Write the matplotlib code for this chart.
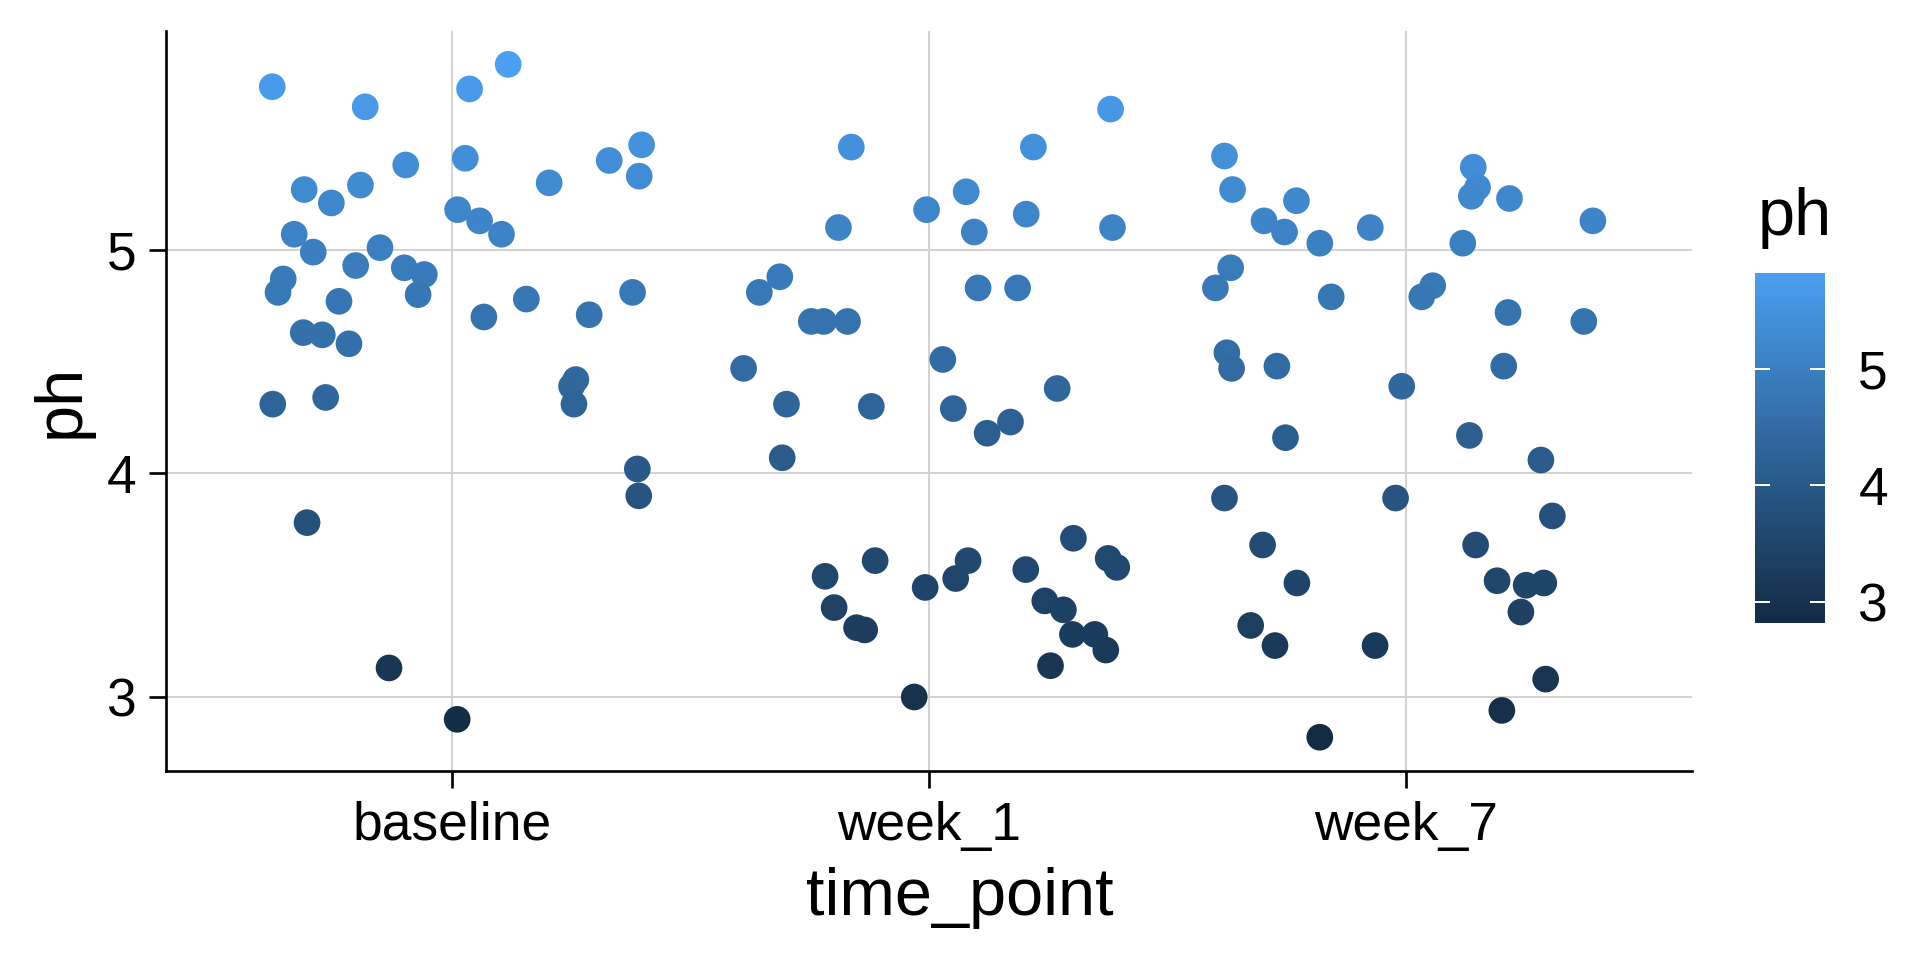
import matplotlib
matplotlib.use("Agg")
import matplotlib.pyplot as plt
from matplotlib.colors import LinearSegmentedColormap, Normalize
import numpy as np

plt.rcParams["font.family"] = ["Liberation Sans", "DejaVu Sans"]

# categories on the x axis
CATEGORIES = ["baseline", "week_1", "week_7"]

# ph values per time point, with the horizontal jitter
baseline_ph = [5.73, 5.64, 5.83, 5.72, 5.41, 5.38, 5.27, 5.21, 5.29, 5.47,
               5.40, 5.33, 5.30, 5.18, 5.13, 5.07, 5.07, 4.99, 5.01, 4.93,
               4.92, 4.89, 4.80, 4.87, 4.81, 4.77, 4.63, 4.62, 4.58, 4.70,
               4.78, 4.71, 4.81, 4.42, 4.39, 4.31, 4.31, 4.34, 4.02, 3.90,
               3.78, 3.13, 2.90]
baseline_jit = [-0.378, -0.183, 0.117, 0.036, 0.027, -0.098, -0.311, -0.254, -0.193, 0.397,
                0.329, 0.392, 0.203, 0.011, 0.057, 0.103, -0.332, -0.292, -0.152, -0.203,
                -0.101, -0.059, -0.072, -0.355, -0.366, -0.238, -0.313, -0.273, -0.217, 0.066,
                0.155, 0.287, 0.378, 0.259, 0.250, 0.255, -0.377, -0.266, 0.388, 0.391,
                -0.305, -0.133, 0.010]

week1_ph = [5.63, 5.46, 5.46, 5.26, 5.18, 5.10, 5.08, 5.16, 5.10, 4.88,
            4.81, 4.83, 4.83, 4.68, 4.68, 4.68, 4.47, 4.51, 4.31, 4.30,
            4.29, 4.38, 4.23, 4.18, 4.07, 3.61, 3.54, 3.40, 3.31, 3.30,
            3.49, 3.61, 3.53, 3.57, 3.71, 3.62, 3.58, 3.43, 3.39, 3.28,
            3.28, 3.21, 3.14, 3.00]
week1_jit = [0.381, -0.163, 0.219, 0.078, -0.005, -0.190, 0.095, 0.204, 0.385, -0.313,
             -0.356, 0.103, 0.186, -0.247, -0.221, -0.171, -0.389, 0.029, -0.299, -0.121,
             0.051, 0.269, 0.171, 0.122, -0.308, -0.113, -0.218, -0.199, -0.152, -0.135,
             -0.008, 0.082, 0.056, 0.203, 0.303, 0.376, 0.394, 0.243, 0.282, 0.301,
             0.348, 0.371, 0.255, -0.031]

week7_ph = [5.42, 5.27, 5.22, 5.13, 5.08, 5.03, 5.10, 5.37, 5.28, 5.24,
            5.23, 5.13, 5.03, 4.92, 4.83, 4.79, 4.84, 4.79, 4.72, 4.68,
            4.54, 4.47, 4.48, 4.48, 4.39, 4.16, 4.17, 4.06, 3.89, 3.89,
            3.81, 3.68, 3.68, 3.51, 3.52, 3.50, 3.51, 3.38, 3.32, 3.23,
            3.23, 3.08, 2.94, 2.82]
week7_jit = [-0.380, -0.363, -0.229, -0.297, -0.254, -0.180, -0.074, 0.142, 0.151, 0.138,
             0.218, 0.393, 0.120, -0.367, -0.399, -0.156, 0.057, 0.034, 0.215, 0.374,
             -0.375, -0.365, -0.270, 0.206, -0.008, -0.252, 0.134, 0.284, -0.380, -0.021,
             0.308, -0.300, 0.147, -0.228, 0.192, 0.253, 0.290, 0.242, -0.325, -0.274,
             -0.064, 0.294, 0.202, -0.180]

Y_TICKS = [3, 4, 5]

groups = [(baseline_ph, baseline_jit), (week1_ph, week1_jit), (week7_ph, week7_jit)]
all_ph = np.concatenate([g[0] for g in groups])

# dark navy -> light blue gradient, like ggplot's default continuous scale
cmap = LinearSegmentedColormap.from_list("gg", ["#132B43", "#4A9FF0"])
norm = Normalize(vmin=all_ph.min(), vmax=all_ph.max())

fig = plt.figure(figsize=(8, 4), dpi=240)
ax = fig.add_axes([0.0867, 0.197, 0.881 - 0.0867, 0.968 - 0.197])

for i, (ph, jit) in enumerate(groups):
    xs = i + 1 + np.asarray(jit)
    ax.scatter(xs, ph, c=ph, cmap=cmap, norm=norm, s=64,
               edgecolors="none", zorder=3)

ax.set_xlim(0.4, 3.6)
lo, hi = all_ph.min(), all_ph.max()
pad = (hi - lo) * 0.05
ax.set_ylim(lo - pad, hi + pad)
ax.set_xticks([1, 2, 3])
ax.set_xticklabels(CATEGORIES)
ax.set_yticks(Y_TICKS)

ax.grid(True, color="#D3D3D3", linewidth=0.6, zorder=0)
ax.set_axisbelow(True)
for side in ["top", "right"]:
    ax.spines[side].set_visible(False)
for side in ["left", "bottom"]:
    ax.spines[side].set_linewidth(0.8)
ax.tick_params(length=5, width=0.8, labelsize=16, pad=4, color="black")

fig.text(0.032, 0.5825, "ph", rotation=90, ha="center", va="center", fontsize=20)
fig.text(0.5, 0.0646, "time_point", ha="center", va="center", fontsize=20)

# colour bar legend
cax = fig.add_axes([0.914, 0.3514, 0.0365, 0.3646])
sm = plt.cm.ScalarMappable(norm=norm, cmap=cmap)
cb = fig.colorbar(sm, cax=cax, ticks=Y_TICKS)
cb.outline.set_visible(False)
cax.tick_params(length=0, labelsize=16, pad=10)
for v in Y_TICKS:
    cax.axhline(v, xmin=0, xmax=0.2, color="white", linewidth=0.6)
    cax.axhline(v, xmin=0.8, xmax=1, color="white", linewidth=0.6)
fig.text(0.9155, 0.755, "ph", ha="left", va="baseline", fontsize=20)

fig.savefig("out.png", dpi=240)
